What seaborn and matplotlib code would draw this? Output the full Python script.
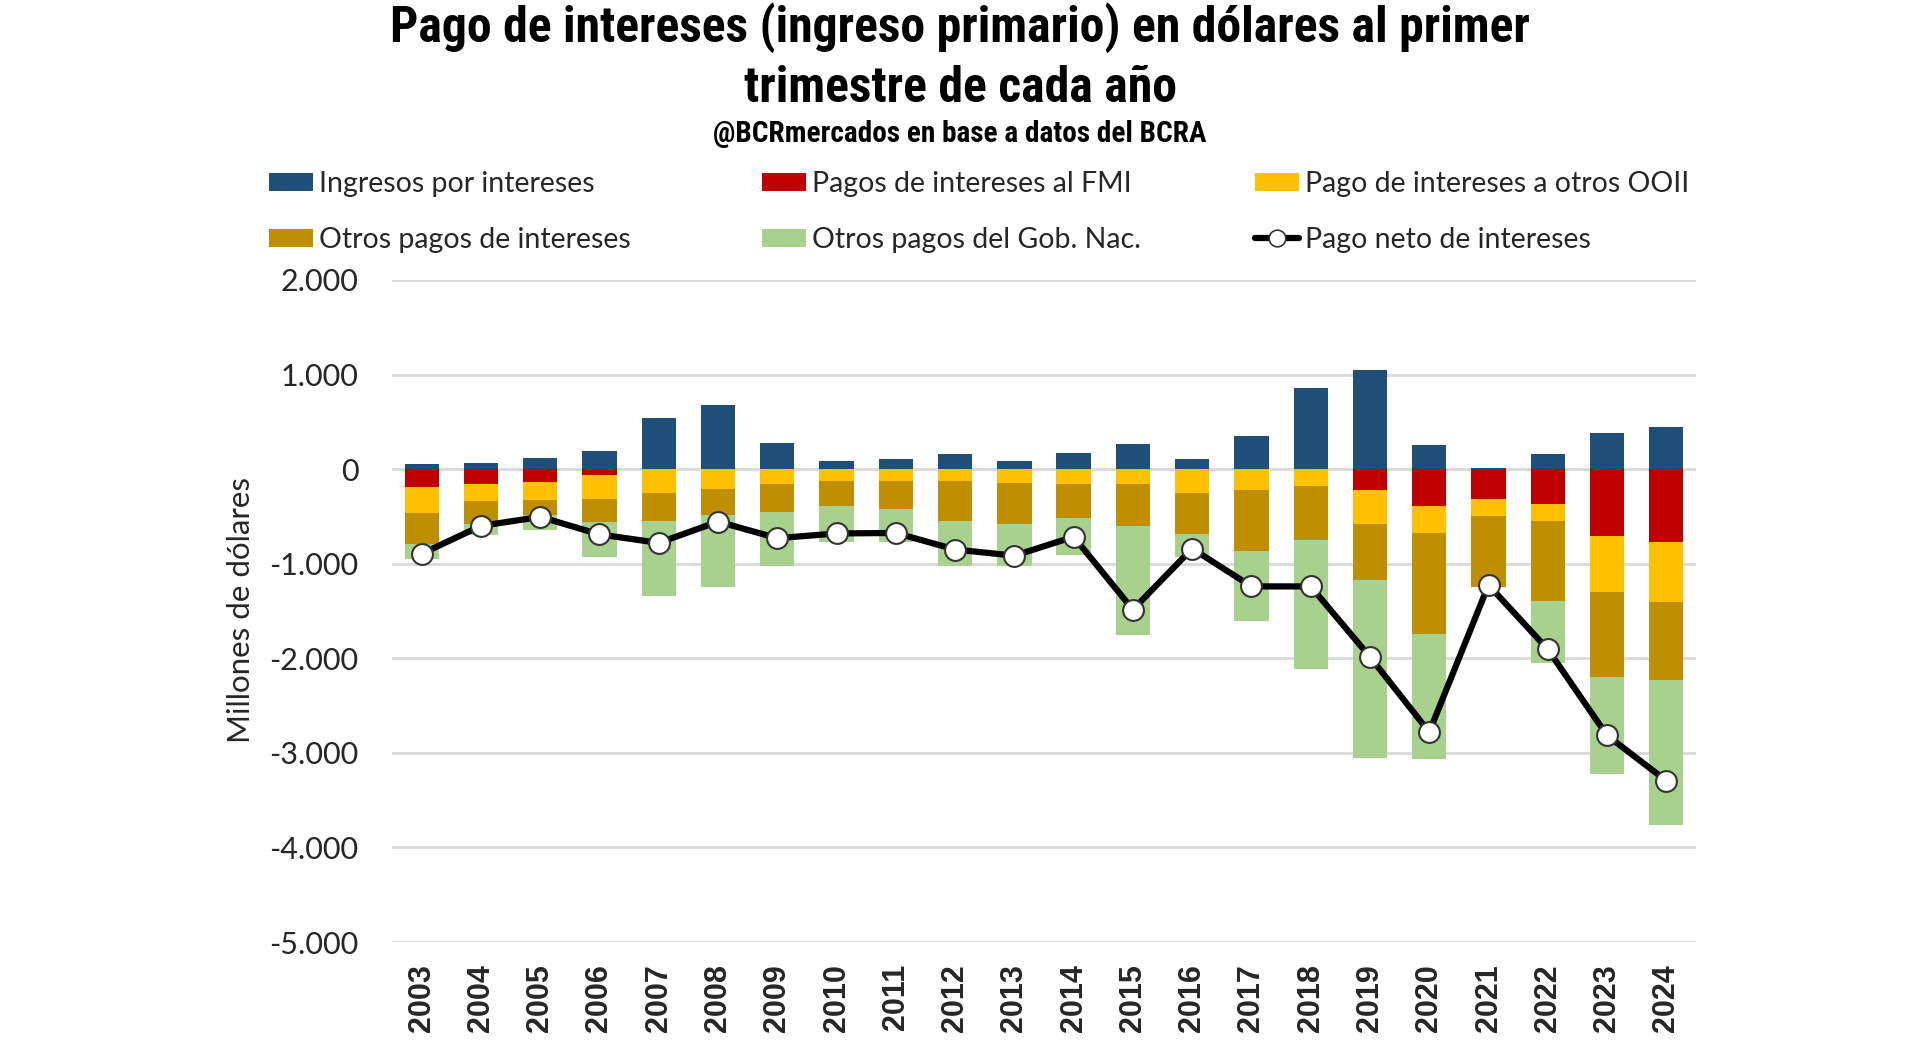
import numpy as np
import pandas as pd
import matplotlib
matplotlib.use("Agg")
import matplotlib.pyplot as plt
import seaborn as sns
from matplotlib import font_manager as fm
from matplotlib.patches import Patch
from matplotlib.lines import Line2D
from matplotlib.ticker import FuncFormatter, MultipleLocator

# ---------------- data (millones de dólares) ----------------
years = [str(y) for y in range(2003, 2025)]
ingresos = [50, 70, 120, 190, 545, 680, 275, 90, 105, 160, 90, 170,
            265, 105, 350, 855, 1045, 255, 15, 155, 380, 450]
pagos_fmi = [-190, -160, -140, -65, 0, 0, 0, 0, 0, 0, 0, 0,
             0, 0, 0, 0, -225, -385, -315, -365, -705, -770]
pagos_ooii = [-275, -180, -190, -250, -250, -205, -160, -130, -130, -125, -150, -160,
              -160, -250, -220, -180, -350, -285, -180, -185, -590, -635]
otros_pagos = [-330, -245, -160, -240, -300, -285, -295, -255, -290, -420, -425, -355,
               -445, -440, -645, -565, -600, -1070, -755, -840, -905, -825]
gob_nac = [-150, -110, -150, -370, -790, -760, -570, -385, -350, -480, -450, -395,
           -1150, -240, -740, -1370, -1875, -1320, 0, -665, -1020, -1530]
neto = [-895, -600, -505, -690, -780, -555, -730, -680, -675, -850, -915, -715,
        -1485, -840, -1240, -1240, -1985, -2780, -1225, -1905, -2815, -3295]

labels = ["Ingresos por intereses", "Pagos de intereses al FMI",
          "Pago de intereses a otros OOII", "Otros pagos de intereses",
          "Otros pagos del Gob. Nac.", "Pago neto de intereses"]
c_blue, c_red, c_yel, c_gold, c_green = "#1F4E79", "#C00000", "#FFC000", "#BF8F00", "#A9D18E"

# ---------------- figure ----------------
sns.set_style("white")
plt.rcParams["font.family"] = ["Lato", "DejaVu Sans"]


def condensed_font():
    names = {f.name for f in fm.fontManager.ttflist}
    for p in ["Liberation Sans Narrow", "DejaVu Sans Condensed", "Roboto Condensed",
              "Open Sans Condensed", "Noto Sans Condensed", "Arial Narrow"]:
        if p in names:
            return dict(family=p)
    for f in fm.fontManager.ttflist:
        if f.stretch in ("condensed", "semi-condensed", "extra-condensed",
                         "ultra-condensed") and f.weight in ("bold", 700, "heavy", 800, 900):
            return dict(family=f.name, stretch=f.stretch)
    for f in fm.fontManager.ttflist:
        if "ondensed" in f.fname or "Narrow" in f.fname:
            return dict(family=f.name, stretch=f.stretch)
    return dict(family="DejaVu Sans")


tfont = condensed_font()

fig = plt.figure(figsize=(19.2, 10.51), dpi=100)
ax = fig.add_axes([0.2042, 0.1037, 0.6791, 0.6299])

cum1 = np.array(pagos_fmi)
cum2 = cum1 + np.array(pagos_ooii)
cum3 = cum2 + np.array(otros_pagos)
cum4 = cum3 + np.array(gob_nac)

bw = 0.58
for vals, col in [(cum4, c_green), (cum3, c_gold), (cum2, c_yel), (cum1, c_red),
                  (np.array(ingresos), c_blue)]:
    sns.barplot(x=years, y=vals, color=col, width=bw, saturation=1,
                errorbar=None, ax=ax, linewidth=0, order=years)

sns.pointplot(x=years, y=neto, color="black", ax=ax, errorbar=None, order=years,
              markers="o", linestyles="-", linewidth=4.5, markersize=15,
              markerfacecolor="white", markeredgecolor="#333333", markeredgewidth=1.5)

ax.set_xlim(-0.5, 21.5)
ax.set_ylim(-5000, 2000)
ax.yaxis.set_major_locator(MultipleLocator(1000))
ax.yaxis.set_major_formatter(FuncFormatter(lambda v, p: f"{v:,.0f}".replace(",", ".")))
ax.yaxis.grid(True, color="#D9D9D9", linewidth=2)
ax.set_axisbelow(True)
for s in ax.spines.values():
    s.set_visible(False)
ax.tick_params(axis="y", length=0, pad=24, labelsize=22, labelcolor="#262626")
ax.tick_params(axis="x", length=0, pad=16)
for t in ax.get_xticklabels():
    t.set_rotation(90)
    t.set_fontfamily("Liberation Sans")
    t.set_fontweight("bold")
    t.set_fontsize(22)
    t.set_color("#262626")
ax.set_xlabel("")
ax.set_ylabel("")

fig.text(241 / 1920, 1 - 610 / 1051, "Millones de dólares", rotation=90,
         ha="center", va="center", fontsize=22.5, color="#262626")

# ---------------- titles ----------------
t1 = fig.text(0.5, 1 - 27.5 / 1051, "Pago de intereses (ingreso primario) en dólares al primer",
              ha="center", va="center", fontsize=32, fontweight="bold", color="black", **tfont)
t2 = fig.text(0.5, 1 - 88 / 1051, "trimestre de cada año",
              ha="center", va="center", fontsize=32, fontweight="bold", color="black", **tfont)
t3 = fig.text(0.5, 1 - 133.5 / 1051, "@BCRmercados en base a datos del BCRA",
              ha="center", va="center", fontsize=19, fontweight="bold", color="black", **tfont)

# fit title widths to the reference layout
renderer = fig.canvas.get_renderer()
w1 = t1.get_window_extent(renderer).width
fs1 = min(40, 32 * 1144 / w1)
t1.set_fontsize(fs1)
t2.set_fontsize(fs1)
w3 = t3.get_window_extent(renderer).width
t3.set_fontsize(min(24, 19 * 494 / w3))

# ---------------- legend ----------------
h_blue = Patch(facecolor=c_blue, edgecolor="none")
h_red = Patch(facecolor=c_red, edgecolor="none")
h_yel = Patch(facecolor=c_yel, edgecolor="none")
h_gold = Patch(facecolor=c_gold, edgecolor="none")
h_green = Patch(facecolor=c_green, edgecolor="none")
h_line = Line2D([0], [0], color="black", lw=4.5, marker="o", markersize=12,
                markerfacecolor="white", markeredgecolor="#333333", markeredgewidth=1.2)
cols = [([h_blue, h_gold], [labels[0], labels[3]], 269),
        ([h_red, h_green], [labels[1], labels[4]], 762),
        ([h_yel, h_line], [labels[2], labels[5]], 1255)]
for hs, ls, xpx in cols:
    fig.legend(hs, ls, loc="center left", bbox_to_anchor=(xpx / 1920, 1 - 212 / 1051),
               frameon=False, fontsize=20.5, handlelength=1.55, handleheight=0.6,
               handletextpad=0.2, labelspacing=1.05, borderpad=0, borderaxespad=0,
               labelcolor="#262626")

fig.savefig("out.png", dpi=100, facecolor="white")
